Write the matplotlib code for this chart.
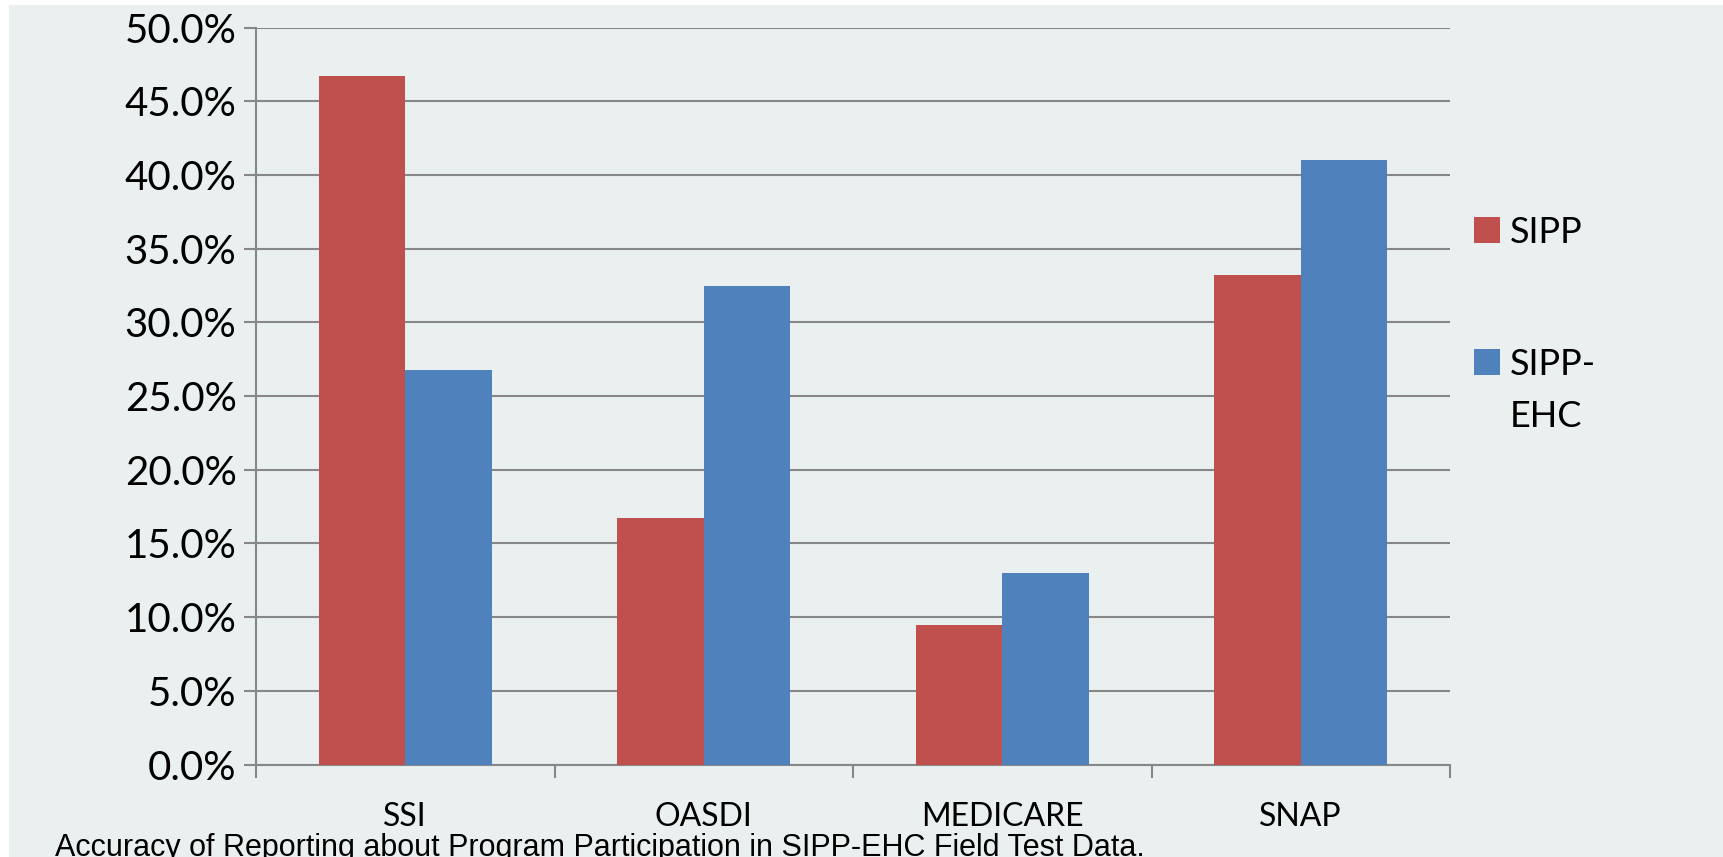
import numpy as np
import matplotlib
matplotlib.use('Agg')
import matplotlib.pyplot as plt
from matplotlib.patches import Rectangle
from matplotlib.ticker import FuncFormatter, MultipleLocator, FixedLocator

# data (percent)
programs = ['SSI', 'OASDI', 'MEDICARE', 'SNAP']
sipp = [46.7, 16.7, 9.5, 33.2]
sipp_ehc = [26.8, 32.5, 13.0, 41.0]
series_names = ['SIPP', 'SIPP-EHC']
colors = ['#C0504D', '#4F81BD']
caption = 'Accuracy of Reporting about Program Participation in SIPP-EHC Field Test Data.'

W, H = 1723, 857
fig = plt.figure(figsize=(W / 100, H / 100), dpi=100)
fig.patch.set_facecolor('white')

# light panel behind everything (thin white strip on top and left)
fig.add_artist(Rectangle((9 / W, 0), 1, 1 - 5 / H, transform=fig.transFigure,
                         facecolor='#EAF0F0', edgecolor='none', zorder=-10))

ax = fig.add_axes([256 / W, 1 - 764.5 / H, (1450 - 256) / W, (764.5 - 27.7) / H])
ax.set_facecolor('none')

x = np.arange(len(programs))
w = 0.29
ax.bar(x - w / 2, sipp, w, color=colors[0], zorder=3)
ax.bar(x + w / 2, sipp_ehc, w, color=colors[1], zorder=3)

ax.set_xlim(-0.5, len(programs) - 0.5)
ax.set_ylim(0, 50)

grey = '#878787'
ax.yaxis.set_major_locator(MultipleLocator(5))
ax.yaxis.set_major_formatter(FuncFormatter(lambda v, p: f'{v:.1f}%'))
ax.grid(axis='y', color=grey, linewidth=1.5, zorder=1)
ax.set_axisbelow(True)

# category boundary ticks, labels in the middle
ax.xaxis.set_major_locator(FixedLocator(np.arange(-0.5, len(programs), 1.0)))
ax.xaxis.set_major_formatter(FuncFormatter(lambda v, p: ''))
ax.xaxis.set_minor_locator(FixedLocator(x))
ax.set_xticklabels(programs, minor=True)
ax.tick_params(axis='x', which='major', length=9, width=1.5, color=grey, direction='out')
ax.tick_params(axis='x', which='minor', length=0, pad=27, labelsize=23)
ax.tick_params(axis='y', length=9, width=1.5, color=grey, direction='out', pad=5, labelsize=29)
for lab in ax.get_xticklabels(minor=True) + ax.get_yticklabels():
    lab.set_fontfamily('Lato')

for s in ['top', 'right']:
    ax.spines[s].set_visible(False)
for s in ['left', 'bottom']:
    ax.spines[s].set_color(grey)
    ax.spines[s].set_linewidth(1.5)

# legend drawn by hand so the swatch sits on the first text line
fig.add_artist(Rectangle((1474 / W, 1 - 243 / H), 26 / W, 26 / H, transform=fig.transFigure,
                         facecolor=colors[0], edgecolor='none'))
fig.text(1510 / W, 1 - 243 / H, series_names[0], family='Lato', fontsize=26, va='baseline')
fig.add_artist(Rectangle((1474 / W, 1 - 375 / H), 26 / W, 26 / H, transform=fig.transFigure,
                         facecolor=colors[1], edgecolor='none'))
fig.text(1510 / W, 1 - 375 / H, 'SIPP-', family='Lato', fontsize=26, va='baseline')
fig.text(1510 / W, 1 - 427 / H, 'EHC', family='Lato', fontsize=26, va='baseline')

fig.text(55 / W, 1 / H, caption, family='Liberation Sans', fontsize=22, va='baseline')

fig.savefig('out.png', dpi=100)
